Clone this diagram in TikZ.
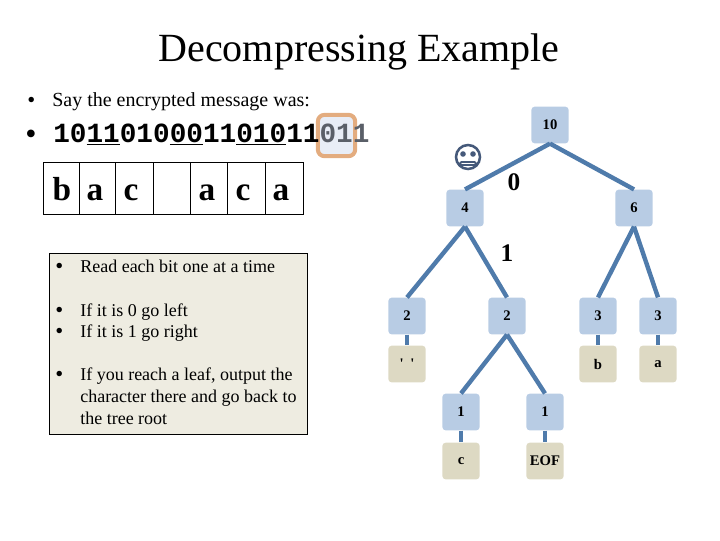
\documentclass[tikz,border=0pt]{standalone}
\usepackage{fontspec}
\setmainfont{Liberation Serif}
\setmonofont{Liberation Mono}
\definecolor{edgeblue}{HTML}{4F7BAB}
\definecolor{innerblue}{HTML}{B8CCE4}
\definecolor{leaftan}{HTML}{DDD9C3}
\definecolor{boxtan}{HTML}{EEECE1}
\definecolor{markorange}{HTML}{E3AC7F}
\definecolor{markblue}{HTML}{E8EDF6}
\definecolor{facegray}{HTML}{45597A}
\definecolor{bitgray}{HTML}{5A5F68}
\tikzset{
    treebox/.style={minimum width=28pt, minimum height=27.5pt, inner sep=0pt, rounded corners=2.5pt, font=\fontsize{11}{11}\selectfont\bfseries},
    inner/.style={treebox, fill=innerblue},
    leaf/.style={treebox, fill=leaftan},
    treeedge/.style={color=edgeblue, line width=3.3pt},
    bitlabel/.style={font=\fontsize{19}{19}\selectfont\bfseries},
    bodytext/.style={anchor=base west, inner sep=0pt, font=\fontsize{13.5}{13.5}\selectfont},
    bulletdot/.style={anchor=base west, inner sep=0pt, font=\fontsize{17}{17}\selectfont},
    cell/.style={anchor=base, font=\fontsize{25}{25}\selectfont\bfseries, inner sep=0pt}
}
\begin{document}
\begin{tikzpicture}[x=.75pt, y=-.75pt]
    \useasboundingbox (0,0) rectangle (720,540);
    \node [inner sep=0pt, anchor=base, font=\fontsize{30}{30}\selectfont] (title) at (359,61) {Decompressing Example};

    \node [bulletdot] (dot1) at (27,107) {•};
    \node [bodytext, font=\fontsize{15}{15}\selectfont] (say) at (52,106) {Say the encrypted message was:};
    \node [bulletdot, font=\fontsize{24}{24}\selectfont] (dot2) at (25,144) {•};

    \node [rounded corners=5pt, draw=markorange, line width=3pt, fill=markblue, minimum width=28pt, minimum height=31pt, inner sep=0pt] (mark) at (336.5,135.5) {};
    \node [bodytext, font=\fontsize{20.8}{20.8}\selectfont\ttfamily\bfseries] (bits) at (53,142)
        {10\underline{11}010\underline{00}11\underline{010}11\textcolor{bitgray}{011}};

    % message table
    \draw (43,162) rectangle (303,214);
    \foreach \x in {79,115,153,190,227,265}
        {\draw (\x,162) -- (\x,214);}
    \foreach \x/\v/\n in {62/b/1,95/a/2,131/c/3,207/a/5,243/c/6,281/a/7}
        {\node [cell] (cell\n) at (\x,200) {\v};}

    % rules box
    \node [draw, fill=boxtan, anchor=north west, minimum width=193.5pt, minimum height=135.75pt, inner sep=0pt] (rules) at (49,253) {};
    \foreach \y/\n in {273/a,317/b,338/c,381/d}
        {\node [bulletdot] (dot\n) at (55,\y) {•};}
    \node [bodytext] (read) at (80,272) {Read each bit one at a time};
    \node [bodytext] (left) at (80,316) {If it is 0 go left};
    \node [bodytext] (right) at (80,337) {If it is 1 go right};
    \node [bodytext] (leafa) at (80,380) {If you reach a leaf, output the};
    \node [bodytext] (leafb) at (80,402) {character there and go back to};
    \node [bodytext] (leafc) at (80,424) {the tree root};

    % tree
    \node [inner] (root) at (550,125) {10};
    \node [inner] (l) at (465,208) {4};
    \node [inner] (r) at (634,208) {6};
    \node [inner] (ll) at (407,316) {2};
    \node [inner] (lr) at (507,316) {2};
    \node [inner] (rl) at (598,316) {3};
    \node [inner] (rr) at (658,316) {3};
    \node [leaf] (space) at (407,364) {\textquotesingle\hspace{5pt}\textquotesingle};
    \node [leaf] (b) at (598,364) {b};
    \node [leaf] (a) at (658,364) {a};
    \node [inner] (lrl) at (461,412) {1};
    \node [inner] (lrr) at (545,412) {1};
    \node [leaf] (c) at (461,461) {c};
    \node [leaf] (eof) at (545,461) {EOF};
    \foreach \p/\q in {root/l,root/r,l/ll,l/lr,r/rl,r/rr,ll/space,rl/b,rr/a,lr/lrl,lr/lrr,lrl/c,lrr/eof}
        {\draw [treeedge] (\p.south) -- (\q.north);}

    \node [bitlabel] (zero) at (514,182) {0};
    \node [bitlabel] (one) at (507,253) {1};

    % face
    \draw [facegray, line width=1.9pt] (468,157) circle (12);
    \fill [facegray] (463,154) circle (2.8) (473,154) circle (2.8);
    \draw [facegray, line width=1.3pt, rounded corners=1pt] (460,162) rectangle (476,165);
\end{tikzpicture}
\end{document}
